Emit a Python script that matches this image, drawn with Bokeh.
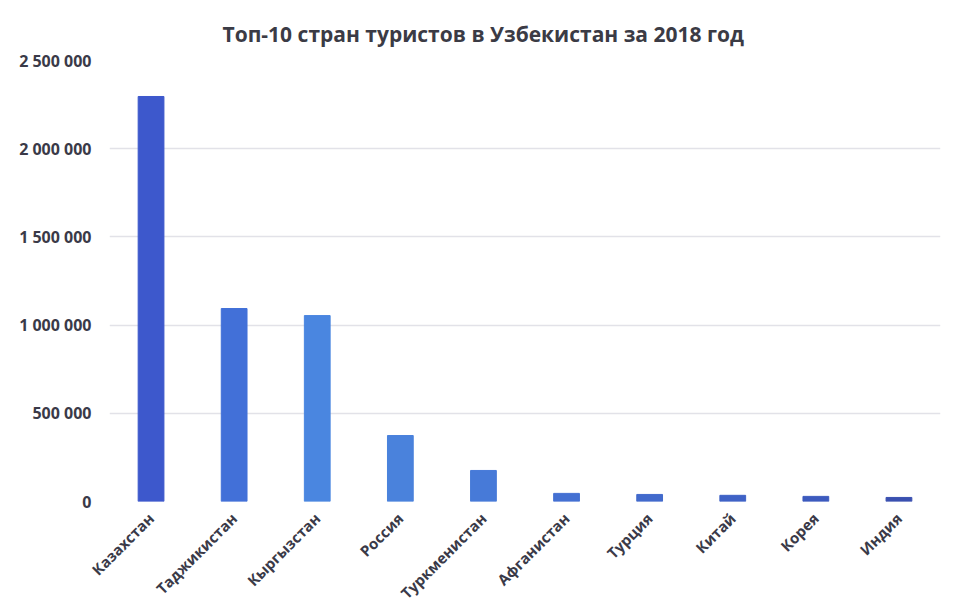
import math
from bokeh.plotting import figure
from bokeh.models import ColumnDataSource, FixedTicker, Range1d, FactorRange
from bokeh.embed import file_html
from bokeh.resources import INLINE

countries = ["Казахстан", "Таджикистан", "Кыргызстан", "Россия", "Туркменистан",
             "Афганистан", "Турция", "Китай", "Корея", "Индия"]
tourists = [2296000, 1094000, 1054000, 374000, 176000, 46000, 40000, 35000, 29000, 23000]
bar_colors = ["#3d58cc", "#4270d8", "#4a86e0", "#4a82dc", "#477ad8",
              "#4470d2", "#426acc", "#3f62c6", "#3c5abe", "#3a50b0"]
y_ticks = [0, 500000, 1000000, 1500000, 2000000, 2500000]
y_tick_labels = ["0", "500 000", "1 000 000", "1 500 000", "2 000 000", "2 500 000"]

source = ColumnDataSource(dict(country=countries, value=tourists, color=bar_colors))

p = figure(
    width=952, height=612,
    x_range=FactorRange(*countries),
    y_range=Range1d(0, 2500000),
    output_backend="svg", toolbar_location=None,
    title="Топ-10 стран туристов в Узбекистан за 2018 год",
    min_border_left=109, min_border_right=12,
    min_border_top=60, min_border_bottom=104,
)

p.vbar(x="country", top="value", width=0.31, color="color", source=source)

p.title.align = "left"
p.title.offset = 113
p.title.text_font = "Open Sans"
p.title.text_font_size = "21px"
p.title.text_font_style = "bold"
p.title.text_color = "#3b3b45"
p.title.standoff = 22
p.title.vertical_align = "top"

p.outline_line_color = None
p.background_fill_color = "white"
p.border_fill_color = "white"

p.xgrid.grid_line_color = None
p.ygrid.grid_line_color = "#e2e2e8"
p.ygrid.grid_line_width = 1.5
p.yaxis.ticker = FixedTicker(ticks=y_ticks)
p.yaxis.major_label_overrides = {t: l for t, l in zip(y_ticks, y_tick_labels)}

for ax in (p.xaxis, p.yaxis):
    ax.axis_line_color = None
    ax.major_tick_line_color = None
    ax.minor_tick_line_color = None
    ax.major_label_text_font = "Open Sans"
    ax.major_label_text_font_style = "bold"
    ax.major_label_text_font_size = "15px"
    ax.major_label_text_color = "#3a3a48"

p.yaxis.major_label_text_font_size = "16px"
p.yaxis.major_tick_out = 0
p.yaxis.major_label_standoff = 18
p.xaxis.major_label_standoff = 8
p.xaxis.major_label_orientation = math.pi / 4

open("out.html", "w").write(file_html(p, INLINE))
